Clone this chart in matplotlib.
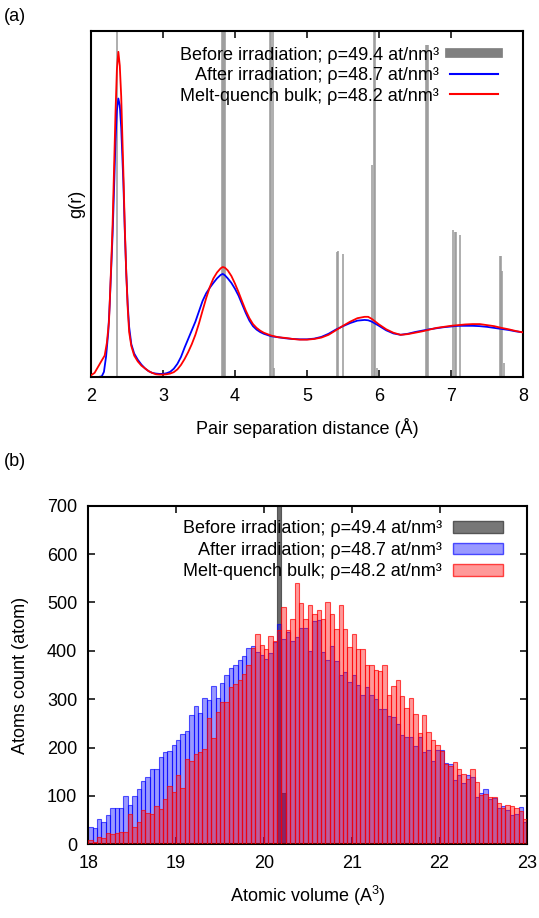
import numpy as np
import matplotlib.pyplot as plt
from matplotlib.lines import Line2D
from matplotlib.patches import Patch

plt.rcParams['font.family'] = ['Liberation Sans', 'DejaVu Sans']
plt.rcParams['mathtext.fontset'] = 'custom'
plt.rcParams['mathtext.rm'] = 'Liberation Sans'
plt.rcParams['mathtext.it'] = 'Liberation Sans:italic'
plt.rcParams['font.size'] = 13

# ---- (a) pair distribution g(r) ----
r_after = [2.00, 2.10, 2.15, 2.18, 2.21, 2.24, 2.26, 2.28, 2.30, 2.32, 2.34, 2.36, 2.38,
           2.40, 2.42, 2.45, 2.47, 2.49, 2.51, 2.53, 2.56, 2.60, 2.65, 2.70, 2.75, 2.80,
           2.85, 2.90, 2.95, 3.00, 3.05, 3.10, 3.15, 3.20, 3.25, 3.30, 3.35, 3.40, 3.45,
           3.50, 3.55, 3.60, 3.65, 3.70, 3.75, 3.80, 3.83, 3.86, 3.90, 3.95, 4.00, 4.05,
           4.10, 4.15, 4.20, 4.25, 4.30, 4.35, 4.40, 4.50, 4.60, 4.70, 4.80, 4.90, 5.00,
           5.10, 5.20, 5.30, 5.40, 5.50, 5.60, 5.70, 5.80, 5.85, 5.90, 6.00, 6.10, 6.20,
           6.30, 6.40, 6.50, 6.60, 6.70, 6.80, 6.90, 7.00, 7.10, 7.20, 7.30, 7.40, 7.50,
           7.60, 7.70, 7.80, 7.90, 8.00]
g_after = [0.00, 0.00, 0.02, 0.15, 0.60, 1.30, 2.10, 3.10, 4.10, 5.40, 6.80, 7.70, 8.05,
           7.85, 7.20, 5.60, 4.20, 3.00, 2.10, 1.45, 0.95, 0.68, 0.50, 0.36, 0.25, 0.17,
           0.12, 0.10, 0.09, 0.09, 0.11, 0.15, 0.24, 0.38, 0.58, 0.85, 1.10, 1.35, 1.60,
           1.90, 2.20, 2.42, 2.58, 2.72, 2.85, 2.95, 2.98, 2.94, 2.85, 2.72, 2.55, 2.35,
           2.10, 1.85, 1.63, 1.47, 1.37, 1.30, 1.25, 1.18, 1.15, 1.12, 1.10, 1.09, 1.09,
           1.11, 1.16, 1.25, 1.37, 1.47, 1.56, 1.63, 1.65, 1.64, 1.60, 1.48, 1.35, 1.26,
           1.22, 1.25, 1.30, 1.34, 1.38, 1.41, 1.44, 1.46, 1.48, 1.48, 1.48, 1.47, 1.45,
           1.42, 1.39, 1.36, 1.32, 1.29]

r_melt = [2.00, 2.05, 2.10, 2.15, 2.19, 2.22, 2.25, 2.28, 2.30, 2.32, 2.34, 2.36, 2.38,
          2.40, 2.42, 2.45, 2.47, 2.49, 2.51, 2.53, 2.56, 2.60, 2.65, 2.70, 2.75, 2.80,
          2.85, 2.90, 2.95, 3.00, 3.05, 3.10, 3.15, 3.20, 3.25, 3.30, 3.35, 3.40, 3.45,
          3.50, 3.55, 3.60, 3.65, 3.70, 3.75, 3.80, 3.83, 3.86, 3.90, 3.95, 4.00, 4.05,
          4.10, 4.15, 4.20, 4.25, 4.30, 4.35, 4.40, 4.50, 4.60, 4.70, 4.80, 4.90, 5.00,
          5.10, 5.20, 5.30, 5.40, 5.50, 5.60, 5.70, 5.80, 5.85, 5.90, 6.00, 6.10, 6.20,
          6.30, 6.40, 6.50, 6.60, 6.70, 6.80, 6.90, 7.00, 7.10, 7.20, 7.30, 7.40, 7.50,
          7.60, 7.70, 7.80, 7.90, 8.00]
g_melt = [0.05, 0.12, 0.30, 0.48, 0.62, 0.98, 1.60, 3.20, 4.40, 6.00, 7.60, 8.90, 9.40,
          9.00, 8.10, 5.90, 4.30, 3.00, 2.00, 1.30, 0.90, 0.62, 0.45, 0.33, 0.25, 0.17,
          0.12, 0.08, 0.07, 0.07, 0.08, 0.10, 0.14, 0.22, 0.35, 0.52, 0.72, 0.95, 1.22,
          1.55, 1.92, 2.28, 2.60, 2.85, 3.02, 3.14, 3.18, 3.16, 3.08, 2.92, 2.70, 2.45,
          2.18, 1.92, 1.70, 1.53, 1.42, 1.34, 1.28, 1.20, 1.15, 1.13, 1.10, 1.08, 1.08,
          1.10, 1.14, 1.22, 1.35, 1.48, 1.60, 1.70, 1.74, 1.74, 1.68, 1.52, 1.38, 1.28,
          1.22, 1.24, 1.28, 1.32, 1.37, 1.42, 1.45, 1.48, 1.50, 1.52, 1.53, 1.53, 1.50,
          1.47, 1.42, 1.38, 1.33, 1.29]

# crystalline peaks (before irradiation), drawn as impulses
r_xtal = [2.357, 3.82, 3.835, 3.85, 3.865, 4.49, 4.505, 4.525, 4.545, 5.41, 5.43, 5.50,
          5.905, 5.935, 5.95, 5.97, 6.65, 6.665, 6.68, 7.03, 7.05, 7.065, 7.12,
          7.68, 7.695, 7.71, 7.73]
g_xtal = [12, 12, 12, 12, 12, 12, 12, 12, 0.25, 3.62, 3.65, 3.55,
          6.13, 12, 12, 0.25, 9.6, 9.6, 9.6, 4.25, 4.2, 4.2, 4.1,
          3.5, 3.5, 3.06, 0.4]

# ---- (b) atomic volume histograms ----
vol_start = 18.0
vol_bin = 0.05
count_after = [36, 34, 52, 47, 61, 74, 76, 76, 99, 82,
               99, 115, 131, 140, 155, 156, 181, 191, 193, 206,
               215, 228, 235, 268, 286, 272, 303, 299, 327, 303,
               333, 350, 364, 370, 382, 390, 405, 410, 398, 392,
               383, 395, 418, 455, 425, 438, 420, 429, 447, 448,
               400, 462, 463, 397, 382, 410, 379, 350, 357, 336,
               350, 329, 308, 326, 308, 301, 279, 279, 265, 264,
               248, 225, 221, 221, 204, 222, 191, 194, 173, 194,
               195, 169, 166, 132, 144, 127, 144, 140, 98, 107,
               115, 93, 96, 74, 79, 70, 61, 63, 78, 47]
count_melt = [9, 5, 16, 14, 24, 22, 23, 26, 26, 63,
              36, 47, 70, 65, 62, 80, 72, 94, 121, 109,
              144, 117, 177, 173, 186, 191, 197, 261, 220, 274,
              294, 294, 325, 332, 340, 352, 370, 405, 434, 412,
              404, 430, 420, 444, 490, 444, 465, 541, 499, 465,
              494, 476, 485, 465, 501, 477, 446, 494, 446, 408,
              434, 403, 403, 370, 370, 361, 359, 371, 309, 327,
              339, 307, 281, 303, 270, 230, 268, 233, 215, 206,
              193, 166, 162, 170, 155, 146, 136, 156, 129, 102,
              104, 97, 97, 86, 74, 81, 80, 76, 69, 53]
vol_before = [20.15, 20.20]
count_before = [23900, 107]

lab_before = 'Before irradiation; \u03c1=49.4 at/nm\u00b3'
lab_after = 'After irradiation; \u03c1=48.7 at/nm\u00b3'
lab_melt = 'Melt-quench bulk; \u03c1=48.2 at/nm\u00b3'

fig = plt.figure(figsize=(5.39, 9.18), dpi=100)
ax1 = fig.add_axes([0.1688, 0.5893, 0.8015, 0.3769])
ax2 = fig.add_axes([0.1638, 0.0803, 0.8145, 0.3688])

ax1.vlines(r_xtal, 0, g_xtal, colors='#999999', lw=1.1, zorder=1)
ax1.plot(r_after, g_after, color='#0000ff', lw=1.3, zorder=2)
ax1.plot(r_melt, g_melt, color='#ff0000', lw=1.3, zorder=3)
ax1.set_xlim(2, 8)
ax1.set_ylim(0, 10)
ax1.set_yticks([])
ax1.tick_params(axis='x', direction='in', top=True, length=5, width=1.1, pad=8)
ax1.set_xlabel('Pair separation distance (Å)', labelpad=9)
ax1.set_ylabel('g(r)', labelpad=4)
h1 = [Line2D([], [], color='#808080', lw=7),
      Line2D([], [], color='#0000ff', lw=1.5),
      Line2D([], [], color='#ff0000', lw=1.5)]
ax1.legend(h1, [lab_before, lab_after, lab_melt], loc='upper right',
           bbox_to_anchor=(0.958, 0.976), markerfirst=False, frameon=False,
           handlelength=2.65, handletextpad=0.6, labelspacing=0.2, borderaxespad=0)

edges = vol_start + vol_bin * np.arange(len(count_after))
ax2.bar(vol_before, count_before, width=vol_bin, align='edge', color='#6a6a6a',
        edgecolor='#555555', lw=0.8, zorder=1)
ax2.bar(edges, count_after, width=vol_bin, align='edge', color=(0, 0, 1, 0.4),
        edgecolor=(0, 0, 1, 0.65), lw=0.8, zorder=2)
ax2.bar(edges, count_melt, width=vol_bin, align='edge', color=(1, 0, 0, 0.4),
        edgecolor=(1, 0, 0, 0.7), lw=0.8, zorder=3)
ax2.set_xlim(18, 23)
ax2.set_ylim(0, 700)
ax2.set_yticks(range(0, 701, 100))
ax2.set_xticks(range(18, 24))
ax2.tick_params(direction='in', top=True, right=True, length=5, width=1.1, pad=8)
ax2.set_xlabel('Atomic volume (A$^3$)', labelpad=8)
ax2.set_ylabel('Atoms count (atom)', labelpad=13)
h2 = [Patch(facecolor='#777777', edgecolor='#555555'),
      Patch(facecolor=(0, 0, 1, 0.4), edgecolor=(0, 0, 1, 0.65)),
      Patch(facecolor=(1, 0, 0, 0.4), edgecolor=(1, 0, 0, 0.7))]
ax2.legend(h2, [lab_before, lab_after, lab_melt], loc='upper right',
           bbox_to_anchor=(0.962, 0.978), markerfirst=False, frameon=False,
           handlelength=2.8, handleheight=0.6, handletextpad=0.6,
           labelspacing=0.25, borderaxespad=0)

for ax in (ax1, ax2):
    for s in ax.spines.values():
        s.set_linewidth(1.5)

fig.text(0.008, 0.982, '(a)', ha='left', va='center')
fig.text(0.008, 0.497, '(b)', ha='left', va='center')

fig.savefig('out.png', dpi=100)
